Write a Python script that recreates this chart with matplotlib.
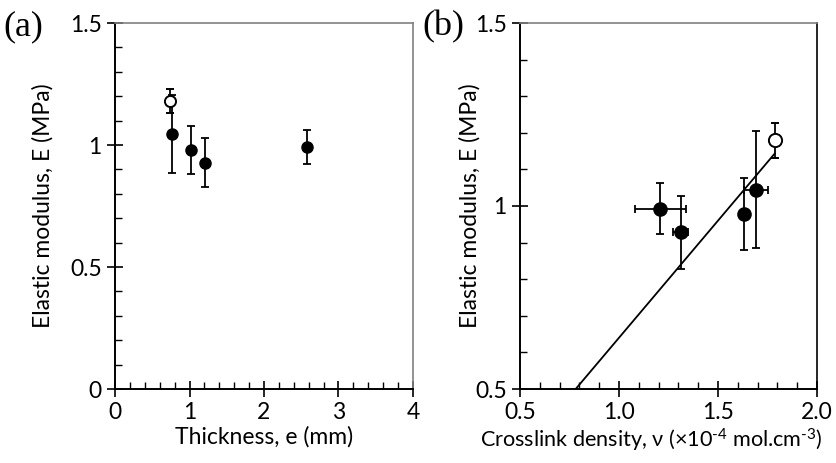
import matplotlib
matplotlib.use("Agg")
import matplotlib.pyplot as plt
import numpy as np
from matplotlib.ticker import MultipleLocator, FormatStrFormatter, FuncFormatter

plt.rcParams['font.family'] = ['Lato', 'DejaVu Sans']
plt.rcParams['mathtext.fontset'] = 'custom'
plt.rcParams['mathtext.rm'] = 'Lato'
plt.rcParams['mathtext.default'] = 'regular'

# Data: filled samples
thickness = [0.77, 1.02, 1.21, 2.58]
modulus = [1.045, 0.978, 0.928, 0.993]
modulus_err = [0.16, 0.098, 0.10, 0.07]
crosslink = [1.692, 1.630, 1.313, 1.209]
crosslink_err = [0.059, 0.0, 0.038, 0.128]
# Open (reference) sample
thickness_open = [0.74]
modulus_open = [1.18]
modulus_open_err = [0.048]
crosslink_open = [1.786]
# Linear fit through origin E = k * nu
fit_slope = 0.64
fit_x_range = [0.0, 1.786]

fig = plt.figure(figsize=(8.36, 4.63), dpi=100)
W, H = 836, 463
axa = fig.add_axes([115 / W, 1 - 389 / H, (413 - 115) / W, (389 - 23) / H])
axb = fig.add_axes([520 / W, 1 - 389 / H, (817 - 520) / W, (389 - 23) / H])

fs = 16.5
eb_kw = dict(ecolor='black', elinewidth=1.3, capsize=3, capthick=1.3, linestyle='none')

# Panel (a)
axa.errorbar(thickness, modulus, yerr=modulus_err, fmt='o', color='black',
             markersize=8, **eb_kw)
axa.errorbar(thickness_open, modulus_open, yerr=modulus_open_err, fmt='o',
             mfc='white', mec='black', mew=1.4, markersize=8, **eb_kw)
axa.set_xlim(0, 4)
axa.set_ylim(0, 1.5)
axa.xaxis.set_major_locator(MultipleLocator(1))
axa.xaxis.set_minor_locator(MultipleLocator(0.2))
axa.yaxis.set_major_locator(MultipleLocator(0.5))
axa.yaxis.set_minor_locator(MultipleLocator(0.1))
axa.yaxis.set_major_formatter(FuncFormatter(lambda v, p: f"{v:g}"))
axa.set_xlabel("Thickness, e (mm)", fontsize=fs, labelpad=2)
axa.set_ylabel("Elastic modulus, E (MPa)", fontsize=fs, labelpad=12)

# Panel (b)
xl = np.array(fit_x_range)
axb.plot(xl, fit_slope * xl, color='black', lw=1.3)
axb.errorbar(crosslink, modulus, xerr=crosslink_err, yerr=modulus_err, fmt='o',
             color='black', markersize=9.5, **eb_kw)
axb.errorbar(crosslink_open, modulus_open, yerr=modulus_open_err, fmt='o',
             mfc='white', mec='black', mew=1.4, markersize=9.5, **eb_kw)
axb.set_xlim(0.5, 2.0)
axb.set_ylim(0.5, 1.5)
axb.xaxis.set_major_locator(MultipleLocator(0.5))
axb.xaxis.set_minor_locator(MultipleLocator(0.1))
axb.xaxis.set_major_formatter(FormatStrFormatter('%.1f'))
axb.yaxis.set_major_locator(MultipleLocator(0.5))
axb.yaxis.set_minor_locator(MultipleLocator(0.1))
axb.yaxis.set_major_formatter(FuncFormatter(lambda v, p: f"{v:g}"))
axb.set_xlabel("Crosslink density, ν (×10$^{\\text{-}4}$ mol.cm$^{\\text{-}3}$)", fontsize=15.6)
axb.xaxis.set_label_coords((651 - 520) / (817 - 520), -(440 - 389) / (389 - 23), transform=axb.transAxes)
axb.xaxis.label.set_va('center')
axb.set_ylabel("Elastic modulus, E (MPa)", fontsize=fs, labelpad=-4)

for ax in (axa, axb):
    ax.tick_params(which='major', direction='inout', length=11, width=1.2,
                   labelsize=fs, pad=4, top=False, right=False)
    ax.tick_params(which='minor', direction='in', length=5, width=1.0,
                   top=False, right=False)
    ax.spines['left'].set_linewidth(1.4)
    ax.spines['bottom'].set_linewidth(1.4)
    ax.spines['top'].set_color('#808080')
    ax.spines['right'].set_color('#808080')
    ax.spines['top'].set_linewidth(1.2)
    ax.spines['right'].set_linewidth(1.2)
axb.spines['right'].set_color('black')

fig.text(3 / W, 1 - 27 / H, "(a)", fontsize=26, family='Liberation Serif', va='center', ha='left')
fig.text(422 / W, 1 - 27 / H, "(b)", fontsize=26, family='Liberation Serif', va='center', ha='left')

fig.savefig("out.png", dpi=100)
